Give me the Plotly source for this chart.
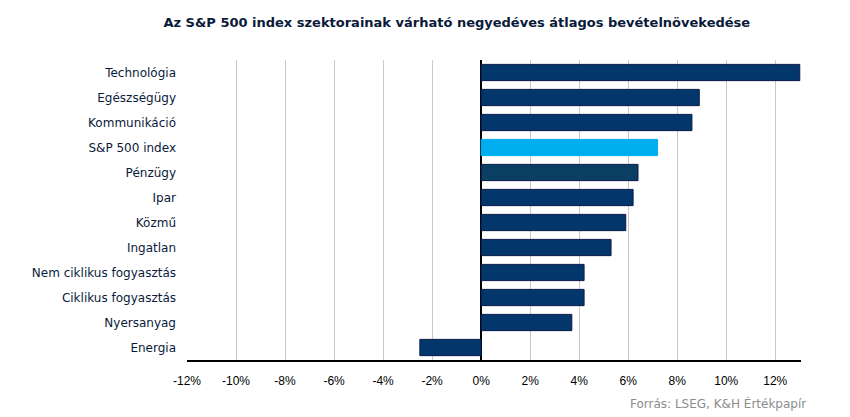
import plotly.graph_objects as go

categories = ["Technológia", "Egészségügy", "Kommunikáció", "S&P 500 index", "Pénzügy",
              "Ipar", "Közmű", "Ingatlan", "Nem ciklikus fogyasztás", "Ciklikus fogyasztás",
              "Nyersanyag", "Energia"]
values = [13.0, 8.9, 8.6, 7.2, 6.4, 6.2, 5.9, 5.3, 4.2, 4.2, 3.7, -2.5]
tick_vals = [-12, -10, -8, -6, -4, -2, 0, 2, 4, 6, 8, 10, 12]
tick_text = ["-12%", "-10%", "-8%", "-6%", "-4%", "-2%", "0%", "2%", "4%", "6%", "8%", "10%", "12%"]

colors = []
for c in categories:
    if c == "S&P 500 index":
        colors.append("#00AEEF")
    elif c == "Pénzügy":
        colors.append("#0A3E62")
    else:
        colors.append("#03366A")
line_colors = ["#00AEEF" if c == "S&P 500 index" else "#0B1A4A" for c in categories]

fig = go.Figure(go.Bar(
    x=values, y=categories, orientation="h",
    marker=dict(color=colors, line=dict(color=line_colors, width=1)),
    width=0.65,
))

fig.update_layout(
    width=850, height=417,
    margin=dict(l=179, r=57, t=52, b=65),
    paper_bgcolor="white", plot_bgcolor="white",
    showlegend=False,
    font=dict(family="DejaVu Sans", size=12, color="#0A1A3A"),
    title=dict(text="<b>Az S&P 500 index szektorainak várható negyedéves átlagos bevételnövekedése</b>",
               x=0.528, xanchor="center", y=0.966, yanchor="middle",
               font=dict(family="DejaVu Sans", size=13, color="#0A1A3A")),
)
fig.update_xaxes(
    range=[-12, 13.05], tickvals=tick_vals, ticktext=tick_text,
    showgrid=True, gridcolor="#C8C8C8", gridwidth=1,
    showline=True, linecolor="black", linewidth=1.5,
    zeroline=True, zerolinecolor="black", zerolinewidth=1.5,
    tickfont=dict(family="Liberation Sans Narrow, Liberation Sans", size=12, color="black"),
    ticks="", ticklabelstandoff=9,
)
fig.update_yaxes(
    categoryorder="array", categoryarray=categories,
    range=[11.5, -0.5],
    showgrid=False, ticks="", ticklabelstandoff=10,
    tickfont=dict(family="DejaVu Sans", size=12, color="#0A1A3A"),
)

fig.add_annotation(text="Forrás: LSEG, K&H Értékpapír", xref="paper", yref="paper",
                   x=1.012, y=-0.145, xanchor="right", yanchor="middle", showarrow=False,
                   font=dict(family="DejaVu Sans", size=12, color="#8C8C8C"))

fig.write_html("out.html")
